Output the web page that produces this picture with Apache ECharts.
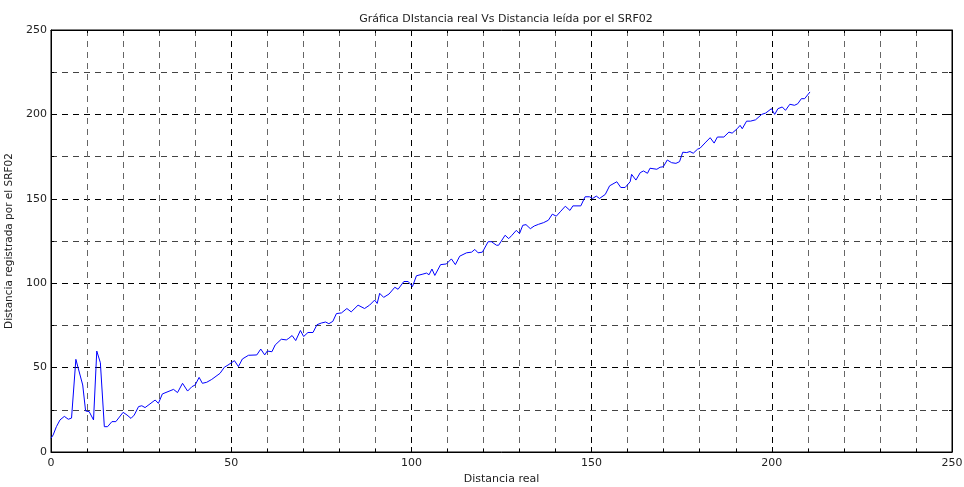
<!DOCTYPE html>
<html>
<head>
<meta charset="utf-8">
<script src="https://cdn.jsdelivr.net/npm/echarts@6/dist/echarts.min.js"></script>
<style>
  html, body { margin: 0; padding: 0; background: #fff; }
  #chart { width: 964px; height: 487px; }
</style>
</head>
<body>
<div id="chart"></div>
<script>
// puntos (distancia real, distancia SRF02)
const distReal = [
  0, 0.6, 1.5, 2.5, 3.7, 4.8, 5.7, 6.9, 8.8, 9.6, 10.6, 11.8, 12.7, 13.7, 14.8, 15.7, 16.9, 18,
  20, 21.1, 22.2, 23.1, 24.3, 25.2, 26.1, 28.9, 29.8, 30.9, 34, 35.1, 36.5, 37.9, 39.1, 40,
  41.1, 42, 43.2, 44.6, 46.9, 48.1, 49.1, 50.9, 52, 53.1, 54.8, 57.1, 58.2, 59.3, 60, 61.3,
  62.2, 63.9, 65.3, 66, 66.9, 67.9, 69.2, 70.1, 71.3, 72.7, 73.8, 75, 76.2, 77.1, 78.2, 79.2,
  80.6, 82.1, 83.3, 85.2, 87, 88.4, 89.8, 90.5, 91.2, 92.3, 93.8, 95.4, 96.3, 97.9, 99.1,
  100.3, 101.4, 103.2, 104.2, 104.9, 105.7, 106.5, 108.1, 109.7, 111.1, 112.2, 113.4, 115.3,
  116.7, 117.6, 118.5, 119.7, 121.3, 122.2, 123.6, 124.2, 124.9, 126, 127, 127.9, 129.1, 130,
  130.9, 131.8, 133, 134.1, 135.3, 136.7, 138, 139.1, 140.2, 141.3, 142.7, 144, 144.8, 147,
  148.2, 149.4, 150.3, 151.3, 152.2, 153.8, 155, 157, 158.1, 159.3, 160.7, 161.1, 162.3,
  163.5, 164.4, 165.5, 166.2, 168.1, 169, 169.9, 171, 172.2, 173.4, 174.4, 175.3, 176.4,
  177.3, 178.2, 179.4, 180.1, 181.7, 182.9, 184, 184.9, 186.7, 188.1, 189, 190.4, 191.2,
  191.8, 193, 194.1, 195.5, 196, 197.2, 198.3, 199.9, 200.8, 201.7, 202.9, 203.8, 205,
  206.3, 207.2, 208.2, 209.1, 210.6
]
const distSRF = [
  8.1, 10.1, 15, 19, 21.1, 19.4, 20.1, 54.9, 39.7, 24.3, 23.9, 19, 59.8, 52.9, 15, 15, 18, 18,
  23.5, 21.9, 19.9, 21.9, 26.9, 27.4, 26.3, 30.8, 28.8, 34.4, 37.1, 35.2, 40.7, 36.1, 38.7, 39.7,
  44.2, 40.7, 41.3, 43, 46.6, 50.2, 51.5, 54.1, 50.6, 55.1, 57.3, 57.5, 61, 57.5, 59.8, 59.4,
  63.4, 66.8, 66.4, 67.4, 69, 66, 72, 68.4, 70.8, 70.8, 75.4, 76.4, 77, 76, 77.4, 82,
  82.4, 85, 83, 87, 85, 87, 90, 88, 94, 91.6, 93.6, 97.6, 96.4, 101, 101,
  98, 104.4, 105.4, 106, 105, 108.4, 104.6, 111, 111.4, 114.4, 111, 116, 118,
  118.4, 120, 118, 118.4, 124.6, 124.6, 122.5, 122.5, 124.8, 128.4, 126.4, 128.4, 131.3, 129.4,
  134.3, 134.7, 132.3, 133.9, 134.9, 135.9, 137.3, 140.9, 139.7, 142.3, 145.6, 143.1, 145.8, 145.8,
  151.2, 151.2, 150.2, 151.6, 150.2, 152.6, 157.7, 160.1, 156.7, 156.7, 160.1, 164.5, 161.1,
  165.5, 166.5, 165.1, 168.1, 167.5, 168.7, 169, 173, 171.4, 171, 172, 177.6, 177.4,
  178, 177, 179.4, 180, 183.6, 186.2, 183, 186.6, 186.6, 189.5, 188.9, 191.5, 193.5,
  191.5, 196, 196, 196.8, 196.4, 200, 200.8, 203.4, 200, 203.4, 204.4, 202.4, 206,
  205.4, 206.3, 209.3, 209.3, 213.3
]

const font = 'DejaVu Sans, sans-serif'
const txt = '#222'

let myChart = echarts.init(document.getElementById('chart'))

const axisCommon = {
  min: 0,
  max: 250,
  interval: 50,
  axisLine: { show: true, onZero: false, lineStyle: { color: '#000', width: 1 } },
  axisTick: { show: true, inside: true, length: 5, lineStyle: { color: '#000' } },
  minorTick: { show: true, length: 3, lineStyle: { color: '#000' } },
}

myChart.setOption({
  animation: false,
  title: {
    text: 'Gráfica DIstancia real Vs Distancia leída por el SRF02',
    left: 501,
    top: 9,
    textAlign: 'center',
    textStyle: { fontFamily: font, fontSize: 11, fontWeight: 'normal', color: txt },
  },
  grid: {
    left: 51,
    right: 12,
    top: 30,
    bottom: 35,
    outerBoundsMode: 'none',
    show: true,
    borderColor: '#000',
    borderWidth: 1,
  },
  xAxis: [
    {
      ...axisCommon,
      type: 'value',
      position: 'bottom',
      name: 'Distancia real',
      nameLocation: 'middle',
      nameGap: 22,
      nameTextStyle: { fontFamily: font, fontSize: 11, color: txt },
      minorTick: { ...axisCommon.minorTick, splitNumber: 5 },
      axisLabel: { fontFamily: font, fontSize: 11, color: txt, margin: 6 },
      splitLine: { show: true, lineStyle: { color: '#000', type: [6, 5], width: 1 } },
      minorSplitLine: { show: true, lineStyle: { color: '#666', type: [6, 5], width: 1 } },
    },
    {
      ...axisCommon,
      type: 'value',
      position: 'top',
      minorTick: { ...axisCommon.minorTick, splitNumber: 5 },
      axisLabel: { show: false },
      splitLine: { show: false },
    },
  ],
  yAxis: [
    {
      ...axisCommon,
      type: 'value',
      position: 'left',
      name: 'Distancia registrada por el SRF02',
      nameLocation: 'middle',
      nameGap: 32,
      nameTextStyle: { fontFamily: font, fontSize: 10.5, color: txt },
      minorTick: { ...axisCommon.minorTick, splitNumber: 2 },
      axisLabel: { fontFamily: font, fontSize: 11, color: txt, margin: 4 },
      splitLine: { show: true, lineStyle: { color: '#000', type: [6, 5], width: 1 } },
      minorSplitLine: { show: true, lineStyle: { color: '#444', type: [6, 5], width: 1 } },
    },
    {
      ...axisCommon,
      type: 'value',
      position: 'right',
      minorTick: { ...axisCommon.minorTick, splitNumber: 2 },
      axisLabel: { show: false },
      splitLine: { show: false },
    },
  ],
  series: [
    {
      type: 'line',
      xAxisIndex: 0,
      yAxisIndex: 0,
      data: distReal.map((x, i) => [x, distSRF[i]]),
      showSymbol: false,
      lineStyle: { color: '#0000ff', width: 1 },
      z: 5,
    },
  ],
})
</script>
</body>
</html>
